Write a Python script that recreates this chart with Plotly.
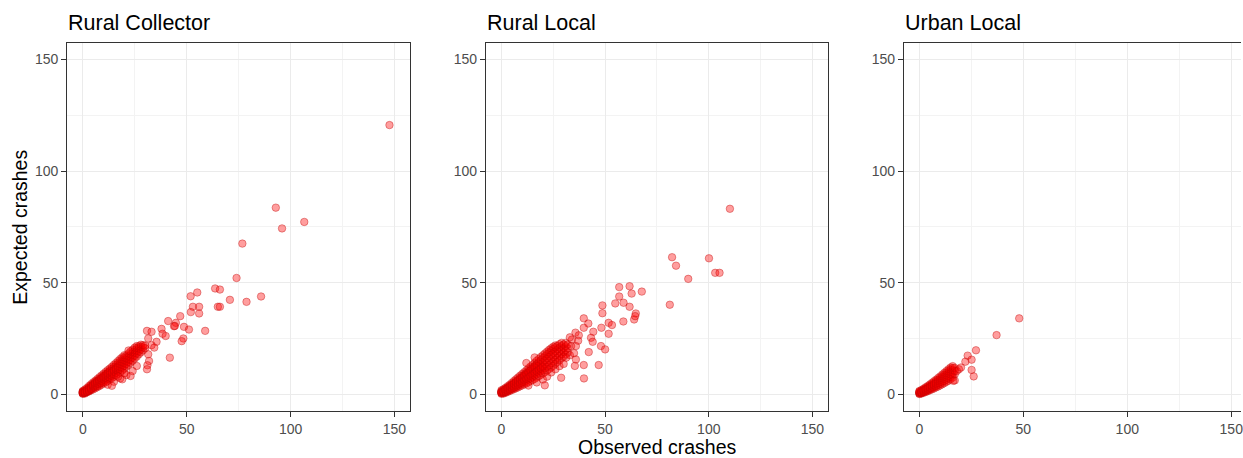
import plotly.graph_objects as go

# ---------------- data (observed, expected) ----------------
panel_titles = ["Rural Collector", "Rural Local", "Urban Local"]
x_title = "Observed crashes"
y_title = "Expected crashes"
tick_values = [0, 50, 100, 150]
tick_labels = ["0", "50", "100", "150"]

rural_collector_core = [
    (0, 0.2), (0, 0.5), (0, 0.7), (0, 0.9), (0, 1.2), (0, 1.5), (0, 0.4), (0, 1.0),
    (1, 0.3), (1, 0.6), (1, 0.9), (1, 1.3), (1, 1.6), (1, 2.1), (1, 1.1), (1, 0.8),
    (2, 0.9), (2, 1.2), (2, 1.5), (2, 1.9), (2, 2.3), (2, 2.8), (2, 1.7), (2, 1.1),
    (3, 1.3), (3, 1.7), (3, 2.0), (3, 2.6), (3, 3.1), (3, 3.7), (3, 2.3), (3, 1.5),
    (4, 1.8), (4, 2.2), (4, 2.7), (4, 3.3), (4, 3.9), (4, 4.5), (4, 3.0), (4, 2.5),
    (5, 2.2), (5, 2.9), (5, 3.3), (5, 3.9), (5, 4.6), (5, 5.3), (5, 3.6), (5, 4.2),
    (6, 2.7), (6, 3.4), (6, 3.9), (6, 4.6), (6, 5.4), (6, 6.0), (6, 4.3), (6, 5.0),
    (7, 3.2), (7, 3.8), (7, 4.6), (7, 5.3), (7, 6.1), (7, 6.8), (7, 4.9), (7, 5.7),
    (8, 3.7), (8, 4.5), (8, 5.2), (8, 6.0), (8, 6.8), (8, 7.6), (8, 5.6), (8, 6.4),
    (9, 4.3), (9, 5.0), (9, 5.9), (9, 6.7), (9, 7.5), (9, 8.4), (9, 6.2), (9, 7.1),
    (10, 4.9), (10, 5.6), (10, 6.5), (10, 7.4), (10, 8.3), (10, 9.2), (10, 6.9), (10, 7.8),
    (11, 5.4), (11, 6.3), (11, 7.2), (11, 8.1), (11, 9.1), (11, 10.0), (11, 7.6), (11, 8.6),
    (12, 5.9), (12, 6.9), (12, 7.9), (12, 8.8), (12, 9.8), (12, 10.8), (12, 8.3), (12, 9.3),
    (13, 6.6), (13, 7.5), (13, 8.6), (13, 9.6), (13, 10.6), (13, 11.5), (13, 9.0), (13, 10.1),
    (14, 7.2), (14, 8.2), (14, 9.3), (14, 10.4), (14, 11.4), (14, 12.3), (14, 9.8),
    (15, 7.8), (15, 8.9), (15, 10.0), (15, 11.1), (15, 12.2), (15, 13.2), (15, 10.6),
    (16, 8.5), (16, 9.6), (16, 10.8), (16, 11.9), (16, 13.0), (16, 14.0), (16, 11.3),
    (17, 9.2), (17, 10.4), (17, 11.5), (17, 12.7), (17, 13.8), (17, 14.9), (17, 12.1),
    (18, 9.9), (18, 11.1), (18, 12.3), (18, 13.5), (18, 14.7), (18, 15.8),
    (19, 10.7), (19, 11.9), (19, 13.2), (19, 14.4), (19, 15.6), (19, 16.6),
    (20, 11.5), (20, 12.8), (20, 14.0), (20, 15.3), (20, 16.5), (20, 17.5),
    (21, 12.4), (21, 13.6), (21, 14.9), (21, 16.2), (21, 17.4),
    (22, 13.2), (22, 14.5), (22, 15.8), (22, 17.1), (22, 18.3),
    (23, 14.1), (23, 15.4), (23, 16.7), (23, 18.0), (23, 19.2),
    (24, 15.0), (24, 16.4), (24, 17.6), (24, 18.9), (24, 20.0),
    (25, 16.0), (25, 17.3), (25, 18.6), (25, 19.8), (25, 20.9),
    (26, 16.9), (26, 18.3), (26, 19.5), (26, 20.7), (26, 21.6),
    (27, 17.9), (27, 19.2), (27, 20.5), (27, 21.5),
    (28, 18.8), (28, 20.1), (28, 21.3), (28, 22.2),
    (29, 19.7), (29, 21.0), (29, 22.0),
    (30, 20.6), (30, 21.8),
    (12, 4.3), (15, 5.6), (18, 7.1), (21, 8.6), (23, 8.2), (24, 10.4),
    (26, 12.7), (19, 6.7), (14, 3.8), (22, 19.6), (20, 9.4), (17, 7.9),
]
rural_collector_outliers = [
    (147.6, 120.6), (92.9, 83.6), (95.9, 74.3), (106.6, 77.2), (76.8, 67.5),
    (74.0, 52.1), (63.7, 47.4), (66.0, 46.9), (85.8, 43.8), (70.8, 42.3),
    (78.8, 41.4), (51.9, 43.9), (55.1, 45.6), (53.0, 39.2), (56.0, 39.2),
    (52.0, 36.8), (56.0, 36.2), (65.0, 39.2), (66.0, 39.2), (46.9, 35.0),
    (41.1, 32.8), (44.8, 32.0), (43.9, 30.5), (44.3, 30.6), (48.7, 30.2),
    (51.1, 29.0), (58.9, 28.4), (37.9, 29.3), (30.9, 28.4), (33.1, 28.0),
    (38.4, 27.1), (39.9, 26.1), (48.4, 25.0), (47.6, 23.8), (31.5, 25.0),
    (35.5, 23.5), (33.1, 22.0), (41.9, 16.4), (31.5, 17.9), (31.9, 14.9),
    (31.1, 13.0), (30.9, 11.2), (34.4, 20.9),
]

rural_local_core = [
    (0, 0.2), (0, 0.5), (0, 0.8), (0, 1.1), (0, 1.4), (0, 1.8), (0, 0.6), (0, 1.0),
    (1, 0.3), (1, 0.7), (1, 1.0), (1, 1.4), (1, 1.8), (1, 2.3), (1, 0.9), (1, 1.2),
    (2, 0.7), (2, 1.1), (2, 1.5), (2, 1.9), (2, 2.4), (2, 2.9), (2, 1.3), (2, 2.1),
    (3, 1.1), (3, 1.5), (3, 2.0), (3, 2.5), (3, 3.0), (3, 3.6), (3, 1.8), (3, 2.7),
    (4, 1.5), (4, 2.0), (4, 2.5), (4, 3.1), (4, 3.7), (4, 4.3), (4, 2.3), (4, 3.4),
    (5, 1.9), (5, 2.5), (5, 3.1), (5, 3.7), (5, 4.4), (5, 5.1), (5, 2.8), (5, 4.0),
    (6, 2.3), (6, 2.9), (6, 3.6), (6, 4.4), (6, 5.1), (6, 5.9), (6, 3.3), (6, 4.7),
    (7, 2.7), (7, 3.4), (7, 4.2), (7, 5.0), (7, 5.8), (7, 6.7), (7, 3.9), (7, 5.4),
    (8, 3.1), (8, 3.9), (8, 4.8), (8, 5.7), (8, 6.5), (8, 7.5), (8, 4.4), (8, 6.1),
    (9, 3.6), (9, 4.5), (9, 5.4), (9, 6.3), (9, 7.3), (9, 8.3), (9, 5.0), (9, 6.8),
    (10, 4.0), (10, 5.0), (10, 6.0), (10, 7.0), (10, 8.1), (10, 9.1), (10, 5.6), (10, 7.5),
    (11, 4.5), (11, 5.5), (11, 6.6), (11, 7.7), (11, 8.8), (11, 9.9), (11, 6.2), (11, 8.3),
    (12, 4.9), (12, 6.1), (12, 7.2), (12, 8.4), (12, 9.6), (12, 10.7), (12, 6.8), (12, 9.0),
    (13, 5.4), (13, 6.6), (13, 7.9), (13, 9.1), (13, 10.4), (13, 11.6), (13, 7.4), (13, 9.8),
    (14, 5.9), (14, 7.2), (14, 8.5), (14, 9.8), (14, 11.2), (14, 12.4), (14, 8.1), (14, 10.6),
    (15, 6.4), (15, 7.8), (15, 9.2), (15, 10.6), (15, 12.0), (15, 13.2), (15, 8.7), (15, 11.3),
    (16, 6.9), (16, 8.4), (16, 9.9), (16, 11.3), (16, 12.8), (16, 14.1), (16, 9.4), (16, 12.1),
    (17, 7.5), (17, 9.0), (17, 10.6), (17, 12.1), (17, 13.6), (17, 15.0), (17, 10.1), (17, 12.9),
    (18, 8.1), (18, 9.7), (18, 11.3), (18, 12.9), (18, 14.5), (18, 15.8), (18, 10.8),
    (19, 8.7), (19, 10.3), (19, 12.0), (19, 13.7), (19, 15.3), (19, 16.7), (19, 11.5),
    (20, 9.3), (20, 11.0), (20, 12.7), (20, 14.5), (20, 16.2), (20, 17.5), (20, 12.2),
    (21, 9.9), (21, 11.7), (21, 13.5), (21, 15.3), (21, 17.0), (21, 18.3),
    (22, 10.6), (22, 12.4), (22, 14.3), (22, 16.1), (22, 17.9), (22, 19.1),
    (23, 11.3), (23, 13.1), (23, 15.1), (23, 16.9), (23, 18.7), (23, 19.9),
    (24, 12.0), (24, 13.9), (24, 15.9), (24, 17.7), (24, 19.5), (24, 20.6),
    (25, 12.8), (25, 14.7), (25, 16.7), (25, 18.5), (25, 20.3), (25, 21.3),
    (26, 13.6), (26, 15.5), (26, 17.5), (26, 19.3), (26, 21.0), (26, 21.9),
    (27, 14.4), (27, 16.3), (27, 18.3), (27, 20.1), (27, 21.7),
    (28, 15.2), (28, 17.2), (28, 19.1), (28, 20.9), (28, 22.4),
    (29, 16.1), (29, 18.0), (29, 19.9), (29, 21.6), (29, 23.0),
    (30, 16.9), (30, 18.9), (30, 20.7), (30, 22.3),
    (31, 17.8), (31, 19.7), (31, 21.5), (31, 23.0),
    (32, 18.7), (32, 20.6), (32, 22.3),
    (13, 3.9), (17, 5.3), (20, 6.6), (22, 7.9), (24, 9.8), (26, 11.2),
    (28, 12.6), (12, 14.0), (16, 16.5), (33, 17.5), (30, 13.6), (35, 18.4),
    (34, 24.5),
]
rural_local_outliers = [
    (110.2, 83.1), (82.3, 61.4), (84.2, 57.6), (100.1, 60.9), (90.1, 51.7),
    (103.1, 54.4), (105.2, 54.4), (81.2, 40.1), (56.8, 48.0), (61.8, 48.4),
    (56.8, 43.8), (62.8, 45.1), (67.7, 46.0), (54.9, 40.7), (58.9, 41.0),
    (61.8, 39.2), (48.7, 39.8), (48.7, 36.3), (64.8, 36.2), (64.0, 33.5),
    (64.5, 35.0), (58.8, 32.6), (51.7, 32.0), (53.3, 31.0), (39.7, 34.0),
    (41.9, 31.7), (39.7, 29.8), (48.2, 29.8), (44.3, 28.0), (51.7, 27.1),
    (35.7, 27.6), (37.3, 26.4), (43.2, 25.3), (44.0, 23.5), (48.0, 21.6),
    (50.0, 20.1), (42.1, 18.9), (46.9, 13.1), (39.8, 7.1), (35.4, 12.7),
    (39.7, 13.1), (35.9, 15.6), (31.2, 16.4), (33.6, 21.6), (35.9, 21.6),
    (28.8, 7.4), (20.9, 4.0), (37.0, 24.0), (33.0, 25.5),
]

urban_local_core = [
    (0, 0.1), (0, 0.3), (0, 0.5), (0, 0.7), (0, 0.9), (0, 1.2), (0, 1.5),
    (1, 0.3), (1, 0.6), (1, 0.9), (1, 1.2), (1, 1.5), (1, 1.9), (1, 0.8),
    (2, 0.7), (2, 1.0), (2, 1.3), (2, 1.7), (2, 2.1), (2, 2.5), (2, 1.5),
    (3, 1.0), (3, 1.4), (3, 1.8), (3, 2.2), (3, 2.6), (3, 3.1), (3, 2.0),
    (4, 1.4), (4, 1.8), (4, 2.3), (4, 2.7), (4, 3.2), (4, 3.7), (4, 2.5),
    (5, 1.8), (5, 2.3), (5, 2.8), (5, 3.3), (5, 3.8), (5, 4.4), (5, 3.0),
    (6, 2.2), (6, 2.7), (6, 3.3), (6, 3.9), (6, 4.5), (6, 5.1), (6, 3.6),
    (7, 2.6), (7, 3.2), (7, 3.9), (7, 4.5), (7, 5.1), (7, 5.8), (7, 4.2),
    (8, 3.1), (8, 3.7), (8, 4.4), (8, 5.1), (8, 5.8), (8, 6.5), (8, 4.8),
    (9, 3.5), (9, 4.3), (9, 5.0), (9, 5.8), (9, 6.5), (9, 7.3),
    (10, 4.0), (10, 4.8), (10, 5.6), (10, 6.4), (10, 7.2), (10, 8.0),
    (11, 4.5), (11, 5.4), (11, 6.2), (11, 7.1), (11, 8.0), (11, 8.8),
    (12, 5.0), (12, 5.9), (12, 6.9), (12, 7.8), (12, 8.7), (12, 9.6),
    (13, 5.6), (13, 6.6), (13, 7.5), (13, 8.5), (13, 9.5), (13, 10.4),
    (14, 6.1), (14, 7.2), (14, 8.2), (14, 9.3), (14, 10.3), (14, 11.2),
    (15, 6.8), (15, 7.8), (15, 8.9), (15, 10.0), (15, 11.1), (15, 12.0),
    (16, 7.5), (16, 8.6), (16, 9.7), (16, 10.8), (16, 11.8), (16, 12.6),
    (17, 9.0), (17, 10.5), (17, 11.8), (18, 10.4), (19, 11.2), (20, 12.0),
    (17, 6.2),
]
urban_local_outliers = [
    (48.0, 34.0), (37.1, 26.5), (27.2, 19.7), (23.2, 17.3), (22.1, 14.6),
    (25.1, 15.5), (25.1, 10.9), (26.1, 8.0), (16.3, 6.0),
]

panels = [
    rural_collector_core + rural_collector_outliers,
    rural_local_core + rural_local_outliers,
    urban_local_core + urban_local_outliers,
]

# ---------------- layout geometry ----------------
W, H = 1243, 458
x_domains = [(67.3 / W, 410.7 / W), (486.7 / W, 829.3 / W), (905.3 / W, 1.0)]
y_domain = (1 - 411.0 / H, 1 - 42.7 / H)
x_ranges = [(-7.5, 157.5), (-7.5, 157.5), (-7.5, 154.7)]
y_range = (-7.5, 157.5)

FONT = "Liberation Sans, Arial, sans-serif"
BORDER = "#333333"

fig = go.Figure()
for i, pts in enumerate(panels):
    suffix = "" if i == 0 else str(i + 1)
    fig.add_trace(go.Scatter(
        x=[p[0] for p in pts], y=[p[1] for p in pts],
        mode="markers",
        xaxis="x" + suffix, yaxis="y" + suffix,
        marker=dict(size=7.5, color="rgba(255,0,0,0.38)",
                    line=dict(color="rgba(190,0,0,0.55)", width=0.7)),
        showlegend=False, hoverinfo="x+y",
    ))

    common = dict(
        showgrid=True, gridcolor="#EBEBEB", gridwidth=1,
        zeroline=False, showline=True, linecolor=BORDER, linewidth=1.1,
        ticks="outside", ticklen=5, tickwidth=1, tickcolor=BORDER,
        tickmode="array", tickvals=tick_values, ticktext=tick_labels,
        tickfont=dict(family=FONT, size=14, color="#4D4D4D"),
        ticklabeloverflow="allow",
        minor=dict(tickmode="array", tickvals=[25, 75, 125], showgrid=True,
                   gridcolor="#F3F3F3", gridwidth=0.6, ticks=""),
        fixedrange=True,
    )
    xa = dict(common, domain=list(x_domains[i]), range=list(x_ranges[i]),
              anchor="y" + suffix, mirror=True)
    ya = dict(common, domain=list(y_domain), range=list(y_range),
              anchor="x" + suffix, mirror=(i < 2))
    fig.layout["xaxis" + suffix] = xa
    fig.layout["yaxis" + suffix] = ya

    fig.add_annotation(
        text=panel_titles[i], xref="paper", yref="paper",
        x=x_domains[i][0], y=1 - 23.0 / H, xanchor="left", yanchor="middle",
        showarrow=False, xshift=-1,
        font=dict(family=FONT, size=21.5, color="#000000"),
    )

fig.add_annotation(
    text=x_title, xref="paper", yref="paper",
    x=(x_domains[1][0] + x_domains[1][1]) / 2, y=1 - 447.0 / H,
    xanchor="center", yanchor="middle", showarrow=False,
    font=dict(family=FONT, size=19.5, color="#000000"),
)
fig.add_annotation(
    text=y_title, xref="paper", yref="paper",
    x=20.0 / W, y=(y_domain[0] + y_domain[1]) / 2,
    xanchor="center", yanchor="middle", showarrow=False, textangle=-90,
    font=dict(family=FONT, size=19.5, color="#000000"),
)

fig.update_layout(
    width=W, height=H,
    margin=dict(l=0, r=0, t=0, b=0),
    paper_bgcolor="white", plot_bgcolor="white",
    showlegend=False,
)

fig.write_html("out.html", config={"displayModeBar": False})
